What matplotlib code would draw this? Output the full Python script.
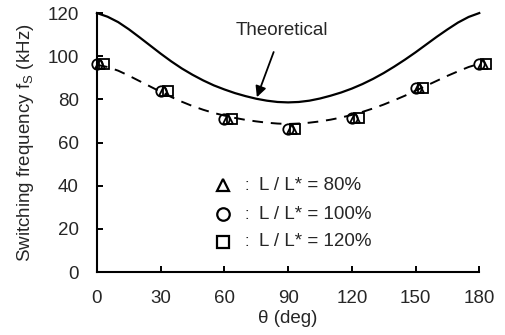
import matplotlib
matplotlib.use("Agg")
import matplotlib.pyplot as plt

plt.rcParams['font.family'] = ['Liberation Sans', 'DejaVu Sans']

# Measured switching frequency (kHz) vs. angle
theta_meas = [0, 30, 60, 90, 120, 150, 180]
fs_80 = [96.5, 84.0, 71.0, 66.5, 71.5, 85.5, 96.5]
fs_100 = [96.5, 84.0, 71.0, 66.5, 71.5, 85.5, 96.5]
fs_120 = [96.5, 84.0, 71.0, 66.5, 71.5, 85.5, 96.5]

# Theoretical curve and fitted (dashed) curve
theta_curve = [0, 5, 10, 15, 20, 25, 30, 35, 40, 45, 50, 55, 60, 65, 70, 75, 80, 85, 90,
               95, 100, 105, 110, 115, 120, 125, 130, 135, 140, 145, 150, 155, 160,
               165, 170, 175, 180]
fs_theory = [120.0, 118.3, 115.8, 112.5, 108.8, 105.0, 101.2, 97.6, 94.3, 91.4,
             88.8, 86.5, 84.6, 82.9, 81.5, 80.3, 79.4, 78.8, 78.6,
             78.8, 79.4, 80.4, 81.7, 83.2, 85.0, 87.1, 89.5, 92.2, 95.2, 98.4,
             101.8, 105.4, 109.0, 112.4, 115.6, 118.2, 120.0]
fs_fit = [96.0, 95.0, 93.3, 91.0, 88.5, 86.0, 83.5, 81.1, 78.9, 76.9,
          75.2, 73.7, 72.5, 71.4, 70.5, 69.8, 69.2, 68.8, 68.6,
          68.8, 69.2, 69.8, 70.6, 71.6, 72.8, 74.2, 75.8, 77.6, 79.6, 81.7,
          84.0, 86.3, 88.6, 90.9, 93.0, 95.0, 96.5]

xticks = [0, 30, 60, 90, 120, 150, 180]
yticks = [0, 20, 40, 60, 80, 100, 120]
legend_labels = ["L / L* = 80%", "L / L* = 100%", "L / L* = 120%"]

txt = '#262626'
fs = 13.5
fig = plt.figure(figsize=(5.05, 3.35), dpi=100)
ax = fig.add_axes([0.192, 0.188, 0.757, 0.773])

ax.plot(theta_curve, fs_theory, color='black', lw=1.6, clip_on=False, zorder=2)
ax.plot(theta_curve, fs_fit, color='black', lw=1.4, ls=(0, (5.5, 4)), clip_on=False, zorder=2)

mk = dict(ls='none', mfc='none', mec='black', mew=1.3, clip_on=False, zorder=3)
ax.plot([t + 0.0 for t in theta_meas], fs_100, marker='o', ms=7.5, **mk)
ax.plot([t + 1.6 for t in theta_meas], fs_80, marker='^', ms=7, **mk)
ax.plot([t + 3.4 for t in theta_meas], fs_120, marker='s', ms=7, **mk)

ax.set_xlim(0, 180)
ax.set_ylim(0, 120)
ax.set_xticks(xticks)
ax.set_yticks(yticks)
for s in ['top', 'right']:
    ax.spines[s].set_visible(False)
for s in ['left', 'bottom']:
    ax.spines[s].set_linewidth(1.5)
ax.tick_params(direction='in', length=4.5, width=1.4, labelsize=fs,
               colors='black', labelcolor=txt)
ax.tick_params(axis='y', pad=13)
ax.tick_params(axis='x', pad=13)

ax.set_xlabel('θ (deg)', fontsize=fs, color=txt, labelpad=2)
ax.set_ylabel('Switching frequency f$_\\mathregular{S}$ (kHz)', fontsize=fs,
              color=txt, labelpad=8)

ax.annotate('Theoretical', xy=(75.3, 81.0), xytext=(87, 112),
            ha='center', va='center', fontsize=fs, color=txt,
            arrowprops=dict(arrowstyle='-|>', color='black', lw=1.3,
                            mutation_scale=16, shrinkA=8, shrinkB=0))

# Legend drawn as marker + colon + label rows
leg_y = [40.3, 26.8, 14.0]
leg_m = ['^', 'o', 's']
for y, m, lab in zip(leg_y, leg_m, legend_labels):
    ax.plot([59.5], [y], marker=m, ms=9, mfc='none', mec='black', mew=1.6, ls='none')
    ax.text(70.5, y, ':', ha='center', va='center', fontsize=12, color=txt)
    ax.text(76.5, y, lab, ha='left', va='center', fontsize=fs, color=txt)

fig.savefig('out.png', dpi=100)
